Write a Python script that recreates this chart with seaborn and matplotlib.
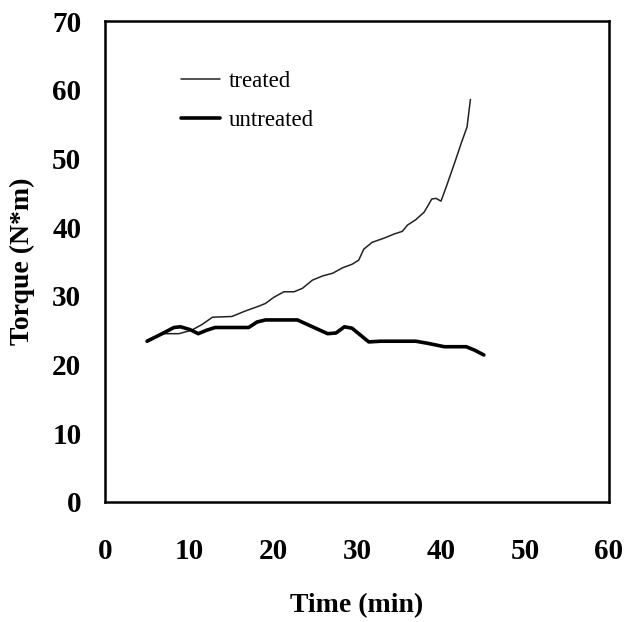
import pandas as pd
import matplotlib.pyplot as plt
import seaborn as sns

# values
treated_time = [5.0, 6.8, 8.8, 10.3, 11.5, 12.8, 15.1, 16.7, 18.3, 19.1, 20.1, 21.3,
                22.5, 23.5, 24.7, 25.9, 27.1, 28.3, 29.4, 30.2, 30.8, 31.8, 33.2,
                34.4, 35.4, 36.0, 37.0, 38.0, 38.9, 39.4, 40.0, 40.6, 41.6, 42.4,
                43.1, 43.5]
treated_torque = [23.5, 24.5, 24.5, 25.0, 25.8, 26.9, 27.0, 27.8, 28.5, 28.9, 29.8, 30.6,
                  30.6, 31.1, 32.3, 32.9, 33.3, 34.1, 34.6, 35.2, 36.8, 37.8, 38.4,
                  39.0, 39.4, 40.3, 41.1, 42.2, 44.1, 44.2, 43.8, 45.8, 49.3, 52.2,
                  54.6, 58.6]

untreated_time = [5.0, 6.8, 8.2, 9.0, 10.1, 11.1, 12.1, 13.1, 17.1, 18.1, 19.1, 22.9,
                  24.7, 26.5, 27.5, 28.5, 29.4, 30.4, 31.4, 32.8, 37.0, 38.4, 40.4,
                  43.0, 44.0, 45.1]
untreated_torque = [23.4, 24.5, 25.4, 25.5, 25.1, 24.5, 25.0, 25.4, 25.4, 26.2, 26.5, 26.5,
                    25.5, 24.5, 24.6, 25.5, 25.3, 24.3, 23.3, 23.4, 23.4, 23.1, 22.6,
                    22.6, 22.1, 21.4]

sns.set_style("white")
plt.rcParams["font.family"] = ["Liberation Serif", "DejaVu Serif"]
plt.rcParams["text.color"] = "black"
plt.rcParams["axes.labelcolor"] = "black"

treated = pd.DataFrame({"time": treated_time, "torque": treated_torque})
untreated = pd.DataFrame({"time": untreated_time, "torque": untreated_torque})

fig = plt.figure(figsize=(6.27, 6.22), dpi=100)
ax = fig.add_axes([0.1675, 0.193, 0.8038, 0.773])

sns.lineplot(data=treated, x="time", y="torque", ax=ax, color="#222222",
             linewidth=1.1, label="treated")
sns.lineplot(data=untreated, x="time", y="torque", ax=ax, color="black",
             linewidth=2.6, label="untreated")

ax.set_xlim(0, 60)
ax.set_ylim(0, 70)
ax.set_xticks(range(0, 61, 10))
ax.set_yticks(range(0, 71, 10))
ax.set_xticks(range(0, 61, 2), minor=True)
ax.set_yticks(range(0, 71, 2), minor=True)
ax.tick_params(which="both", direction="in", color="#dddddd", length=4, width=0.8,
               labelcolor="black")
ax.tick_params(axis="x", which="major", pad=26)
ax.tick_params(axis="y", which="major", pad=17)
for lab in ax.get_xticklabels() + ax.get_yticklabels():
    lab.set_fontsize(21)
    lab.set_fontweight("bold")

for sp in ax.spines.values():
    sp.set_visible(True)
    sp.set_color("black")
    sp.set_linewidth(1.8)

ax.set_xlabel("Time (min)", fontsize=20, fontweight="bold", labelpad=20)
ax.set_ylabel("Torque (N*m)", fontsize=20, fontweight="bold", labelpad=12)

ax.legend(loc="upper left", bbox_to_anchor=(0.11, 0.94), frameon=False,
          fontsize=16.5, handlelength=1.7, handletextpad=0.4, labelspacing=0.8)

fig.savefig("out.png", dpi=100)
